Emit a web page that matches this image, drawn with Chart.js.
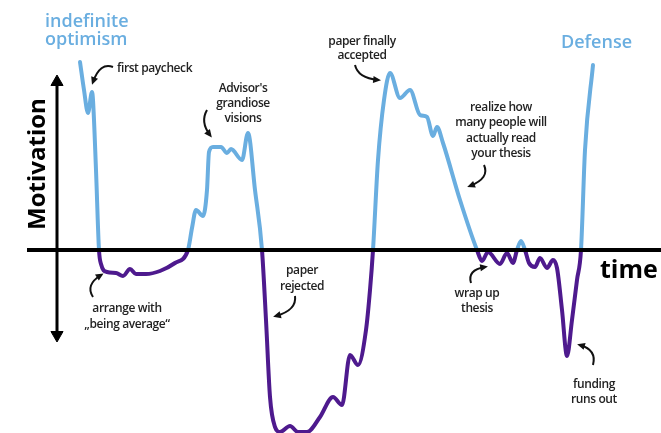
<!DOCTYPE html>
<html>
<head>
<meta charset="utf-8">
<script src="https://cdn.jsdelivr.net/npm/chart.js@4.4.0/dist/chart.umd.min.js"></script>
<style>
	body { margin: 0; background: #fff; }
	#wrap { width: 661px; height: 433px; position: relative; }
</style>
</head>
<body>
<div id="wrap"><canvas id="mycanvas"></canvas></div>
<script>
// motivation over the course of a PhD (time in arbitrary units, motivation: 0 = neutral)
var time = [4.6, 5.4, 6.2, 7.0, 7.2, 7.8, 8.4, 8.8, 10.0, 11.8, 13.2, 14.6, 15.8, 17.8, 20.6, 23.6, 26.2,
	27.0, 27.8, 29.2, 30.0, 30.4, 31.2, 32.8, 34.0, 34.8, 37.0, 38.2, 39.6, 41.0,
	41.8, 42.6, 43.6, 44.6, 46.6, 48.2, 50.0, 52.6, 55.2, 57.0, 58.6, 60.2, 61.8, 62.6, 63.2,
	64.2, 65.4, 66.6, 68.6, 70.6, 72.6, 74.0, 75.2, 76.0, 77.2, 80.6, 84.0,
	85.0, 86.2, 88.6, 90.0, 91.2, 92.0, 92.8, 93.6, 94.4, 95.6, 96.6, 98.0, 99.2, 100.0, 101.0, 102.0, 103.0, 104.0, 104.8, 105.6,
	107.2];
var motivation = [18.8, 16.0, 13.7, 15.8, 15.0, 8.0, 0, -1.4, -2.2, -2.3, -2.6, -1.9, -2.4, -2.4, -2.1, -1.3, 0,
	2.2, 4.0, 3.4, 6.0, 9.8, 10.3, 10.3, 9.7, 10.1, 9.0, 11.7, 6.0, 0,
	-7.0, -14.7, -17.7, -18.2, -17.6, -18.2, -18.2, -16.7, -14.7, -15.5, -10.5, -11.5, -8.0, -4.0, 0,
	9.0, 15.0, 17.7, 15.2, 16.0, 13.5, 13.3, 11.4, 12.3, 10.7, 5.0, 0,
	-1.1, -0.2, -1.4, -0.3, -1.3, 0, 0.9, 0, -1.3, -1.7, -0.8, -1.8, -1.0, -1.8, -6.0, -10.6, -7.0, -3.0, 0, 10.0,
	18.5];

var axisTime = [-6, 120.8];
var arrowMotivation = [16.8, -8.5];

var notes = [
	{ text: ['indefinite', 'optimism'], x: -2.4, y: [22.3, 20.5], align: 'left', color: '#6aaee0', font: '600 18px "Open Sans"' },
	{ text: ['Defense'], x: 100.8, y: [20.2], align: 'left', color: '#6aaee0', font: '600 18px "Open Sans"' },
	{ text: ['first paycheck'], x: 12, y: [17.8], align: 'left' },
	{ text: ["Advisor's", 'grandiose', 'visions'], x: 37.2, y: [15.8, 14.3, 12.8] },
	{ text: ['paper finally', 'accepted'], x: 61, y: [20.5, 19.1] },
	{ text: ['realize how', 'many people will', 'actually read', 'your thesis'], x: 88.8, y: [13.9, 12.4, 10.8, 9.3] },
	{ text: ['paper', 'rejected'], x: 49, y: [-2.4, -4.0] },
	{ text: ['arrange with', '\u201ebeing average\u201c'], x: 14, y: [-6.2, -7.8] },
	{ text: ['wrap up', 'thesis'], x: 84, y: [-4.7, -6.2] },
	{ text: ['funding', 'runs out'], x: 107.4, y: [-13.8, -15.3] }
];

var pointers = [
	[[11.2, 18.3], [8.6, 18.8], [7.2, 16.8]],
	[[30.0, 14.0], [28.6, 12.8], [30.6, 11.5]],
	[[59.6, 18.5], [60.2, 17.2], [64.2, 17.0]],
	[[85.4, 8.5], [86.6, 7.2], [82.6, 6.4]],
	[[47.6, -4.6], [48.0, -6.0], [43.8, -6.6]],
	[[7.2, -4.7], [5.6, -3.5], [8.8, -2.5]],
	[[82.8, -3.3], [82.0, -2.0], [85.6, -1.7]],
	[[107.2, -11.5], [108.0, -10.0], [104.6, -9.5]]
];

var BLUE = '#6aaee0';
var PURPLE = '#4e1a8e';

var curve = [];
for (var i in time) {
	curve.push({ x: time[i], y: motivation[i] });
}

var labelsPlugin = {
	id: 'labels',
	afterDatasetsDraw: function(chart) {
		var ctx = chart.ctx;
		var sx = chart.scales.x, sy = chart.scales.y;
		ctx.save();
		// Motivation / time
		ctx.fillStyle = '#000';
		ctx.font = 'bold 24px "Open Sans"';
		ctx.textAlign = 'center';
		ctx.textBaseline = 'alphabetic';
		ctx.save();
		ctx.translate(sx.getPixelForValue(-2.4), sy.getPixelForValue(8.6));
		ctx.rotate(-Math.PI / 2);
		ctx.fillText('Motivation', 0, 0);
		ctx.restore();
		ctx.font = 'bold 25px "Open Sans"';
		ctx.textAlign = 'left';
		ctx.fillText('time', sx.getPixelForValue(108.6), sy.getPixelForValue(-2.8));

		for (var n in notes) {
			var note = notes[n];
			ctx.fillStyle = note.color || '#222';
			ctx.font = note.font || '600 12px "Open Sans"';
			ctx.textAlign = note.align || 'center';
			ctx.letterSpacing = note.font ? '0px' : '-0.4px';
			for (var l in note.text) {
				ctx.fillText(note.text[l], sx.getPixelForValue(note.x), sy.getPixelForValue(note.y[l]));
			}
		}

		ctx.strokeStyle = '#111';
		ctx.fillStyle = '#111';
		ctx.lineWidth = 2;
		for (var p in pointers) {
			var a = pointers[p];
			var x0 = sx.getPixelForValue(a[0][0]), y0 = sy.getPixelForValue(a[0][1]);
			var x1 = sx.getPixelForValue(a[1][0]), y1 = sy.getPixelForValue(a[1][1]);
			var x2 = sx.getPixelForValue(a[2][0]), y2 = sy.getPixelForValue(a[2][1]);
			ctx.beginPath();
			ctx.moveTo(x0, y0);
			ctx.quadraticCurveTo(x1, y1, x2, y2);
			ctx.stroke();
			var ang = Math.atan2(y2 - y1, x2 - x1);
			ctx.beginPath();
			ctx.moveTo(x2 + Math.cos(ang) * 3, y2 + Math.sin(ang) * 3);
			ctx.lineTo(x2 + Math.cos(ang + 2.5) * 6, y2 + Math.sin(ang + 2.5) * 6);
			ctx.lineTo(x2 + Math.cos(ang - 2.5) * 6, y2 + Math.sin(ang - 2.5) * 6);
			ctx.closePath();
			ctx.fill();
		}
		ctx.restore();
	}
};

var ctx = document.getElementById('mycanvas');
var LineGraph = new Chart(ctx, {
	type: 'line',
	data: {
		datasets: [
			{
				label: 'motivation',
				data: curve,
				borderColor: BLUE,
				borderWidth: 4,
				pointRadius: 0,
				cubicInterpolationMode: 'monotone',
				borderCapStyle: 'round',
				borderJoinStyle: 'round',
				order: 2,
				segment: {
					borderColor: function(c) {
						return (c.p0.parsed.y + c.p1.parsed.y) > 0 ? BLUE : PURPLE;
					}
				}
			},
			{
				label: 'time axis',
				data: [{ x: axisTime[0], y: 0 }, { x: axisTime[1], y: 0 }],
				borderColor: '#000',
				borderWidth: 4,
				pointRadius: 0,
				order: 1
			},
			{
				label: 'motivation axis',
				data: [{ x: 0, y: arrowMotivation[0] }, { x: 0, y: arrowMotivation[1] }],
				borderColor: '#000',
				borderWidth: 3,
				pointStyle: 'triangle',
				pointRadius: 7,
				pointRotation: [0, 180],
				pointBackgroundColor: '#000',
				pointBorderColor: '#000',
				pointBorderWidth: 1,
				order: 1
			}
		]
	},
	options: {
		responsive: true,
		maintainAspectRatio: false,
		animation: false,
		clip: false,
		layout: { padding: 0, autoPadding: false },
		plugins: { legend: { display: false }, tooltip: { enabled: false } },
		scales: {
			x: { type: 'linear', min: -11.4, max: 120.8, display: false },
			y: { type: 'linear', min: -18.3, max: 25.0, display: false }
		}
	},
	plugins: [labelsPlugin]
});
</script>
</body>
</html>
